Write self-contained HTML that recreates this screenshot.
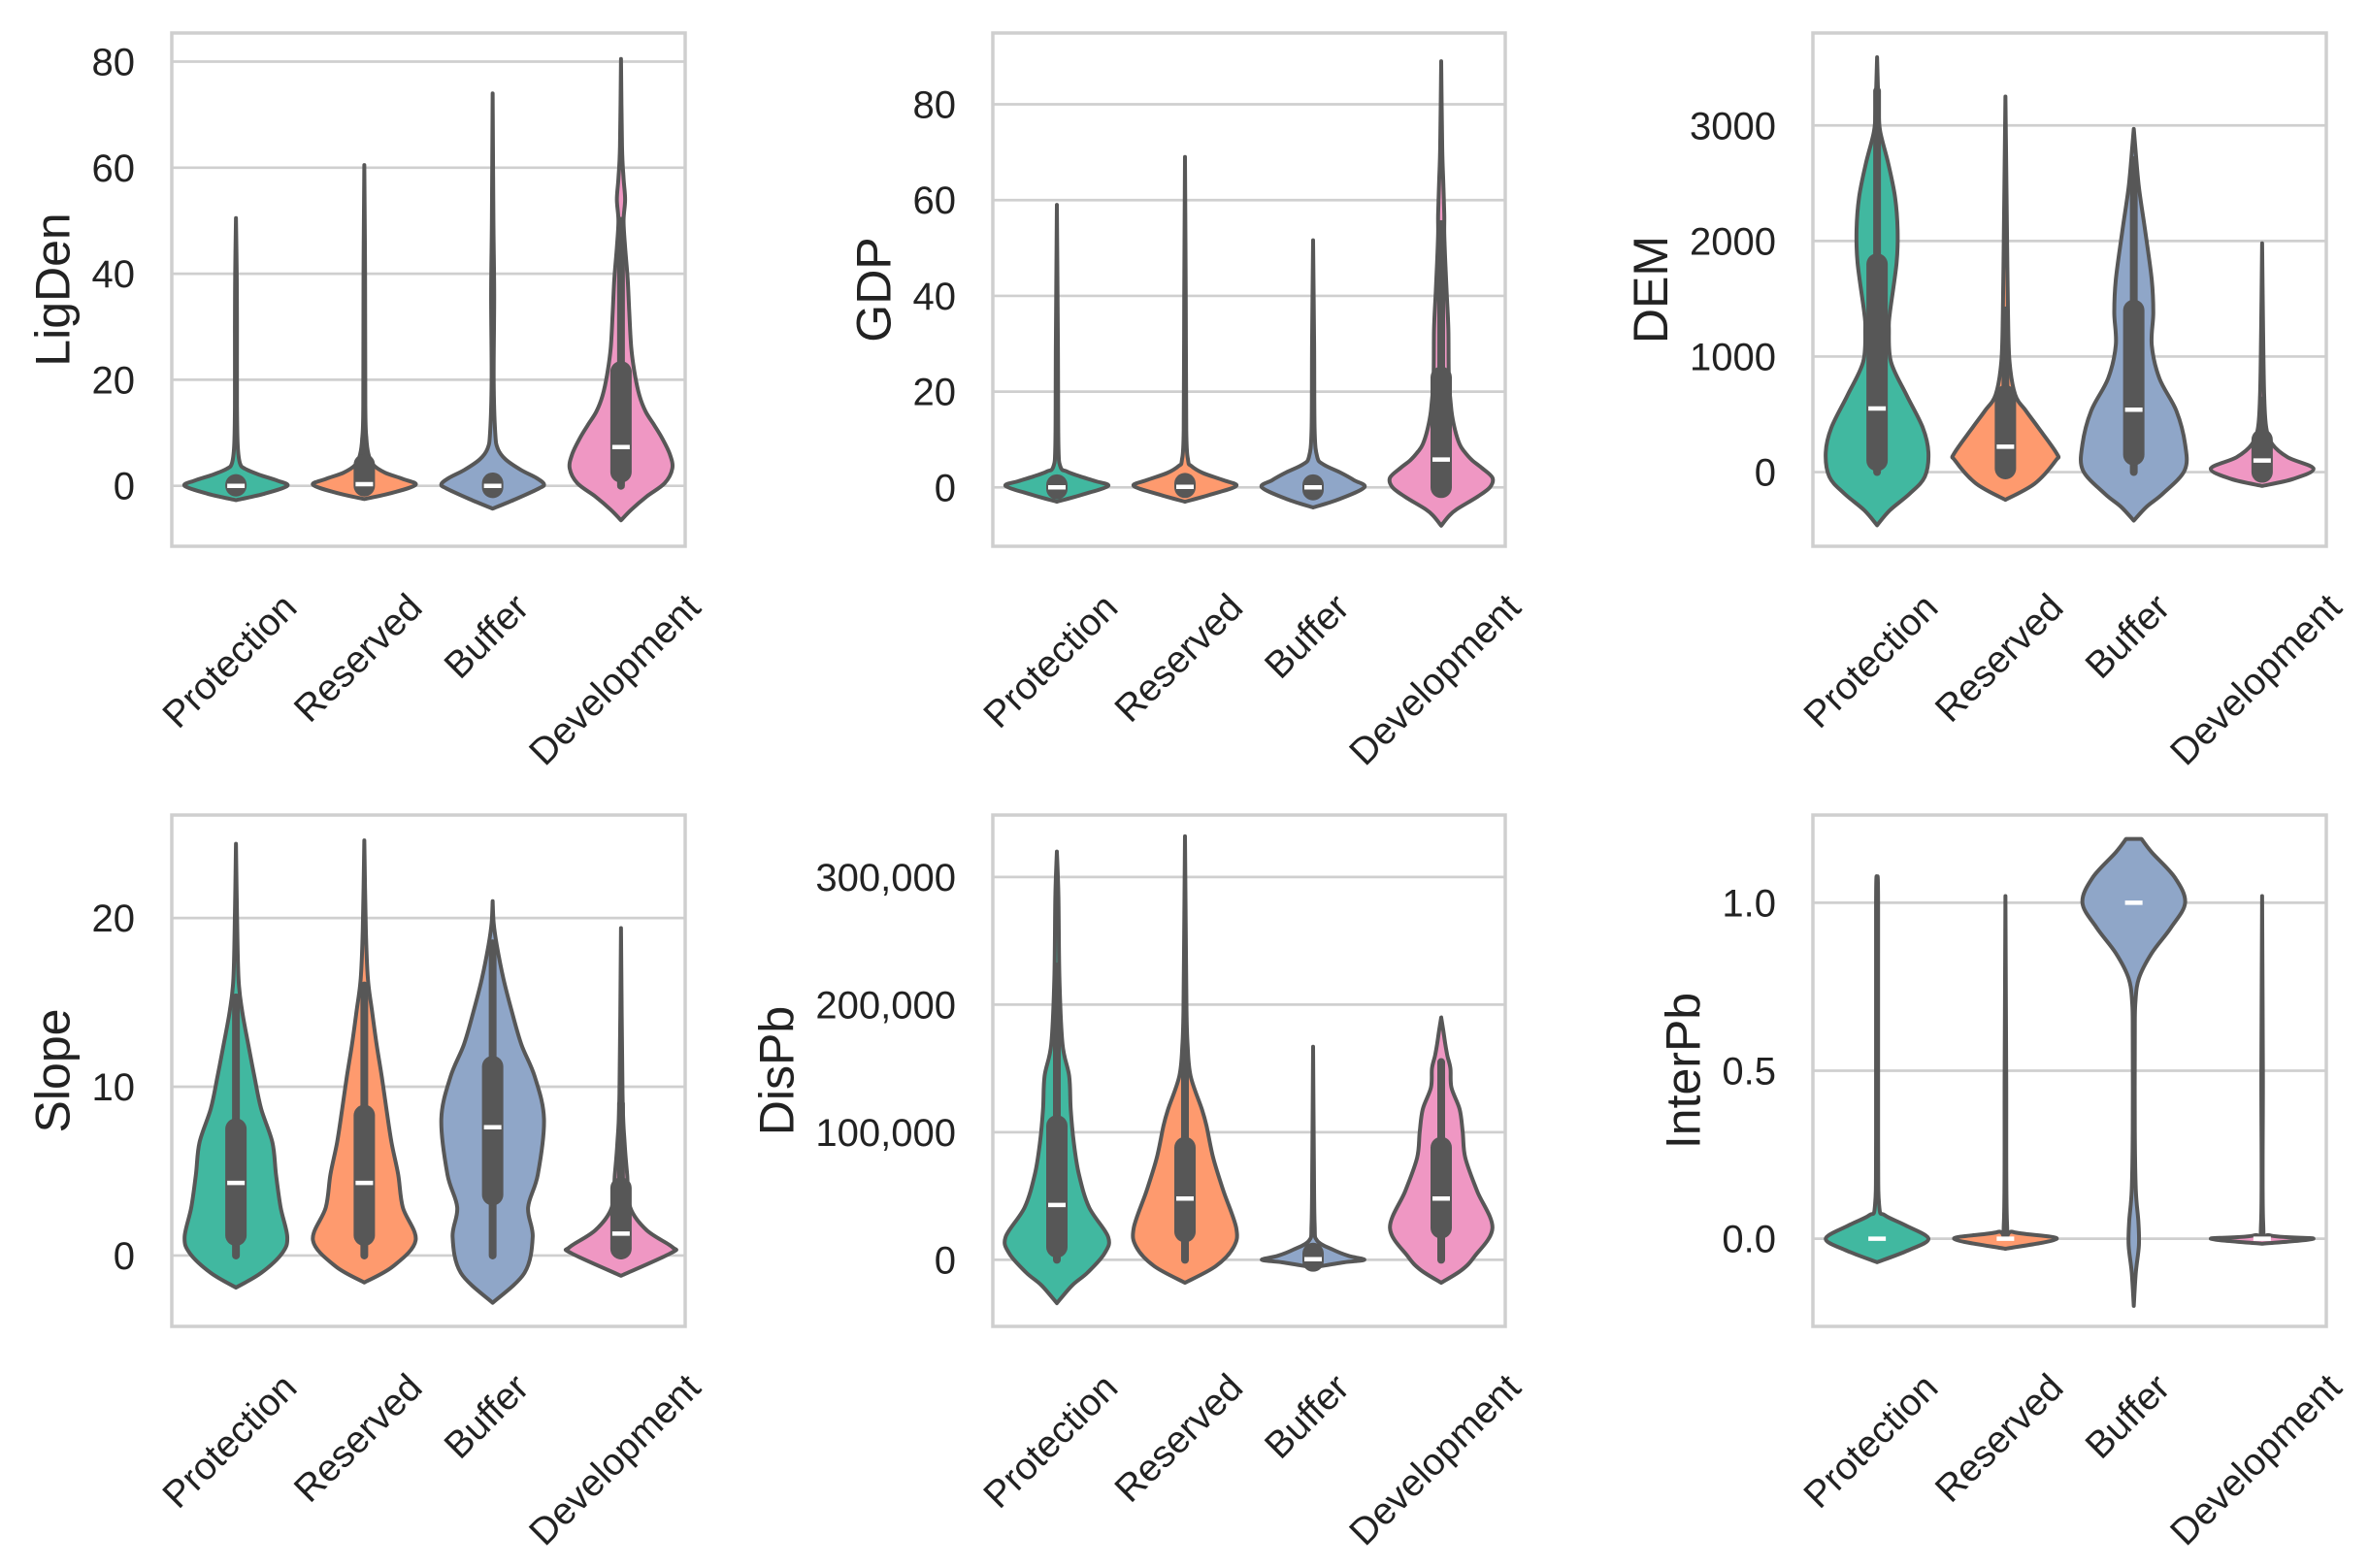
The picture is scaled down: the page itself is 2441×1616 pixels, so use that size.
<!DOCTYPE html>
<html><head><meta charset="utf-8">
<style>
html,body{margin:0;padding:0;background:#fff;}
svg{display:block;font-family:"Liberation Sans",Arial,sans-serif;}
</style></head>
<body>
<svg id="fig" width="2441" height="1616" viewBox="0 0 2441 1616" xmlns="http://www.w3.org/2000/svg"></svg>
<script>
const categories = ["Protection","Reserved","Buffer","Development"];
const fillColors = ["#41b8a0","#fe9a6e","#8fa6c8","#ef97c3"];

// ---- LigDen ----
const ligdenTicks = [0,20,40,60,80];
const ligdenTickLabels = ["0","20","40","60","80"];
const ligdenShapes = [
 [[-2.7,0],[-1.5,0.55],[0,1],[1,0.8],[2.1,0.45],[3.2,0.18],[4.2,0.08],[7.5,0.035],[15,0.02],[30,0.02],[40,0.015],[50.5,0]],
 [[-2.5,0],[-1.3,0.55],[0.2,1],[1.3,0.75],[2.5,0.4],[4,0.17],[6,0.08],[9,0.04],[15,0.02],[40,0.015],[60.5,0]],
 [[-4.3,0],[-2.5,0.45],[-0.5,0.9],[0.3,1],[1.5,0.85],[3,0.55],[5,0.25],[7,0.1],[10,0.05],[20,0.02],[36,0.03],[50,0.015],[74,0]],
 [[-6.5,0],[-4.5,0.2],[-2,0.5],[0.5,0.85],[3.3,1],[6,0.95],[9,0.8],[11.4,0.65],[14,0.48],[17,0.36],[21,0.27],[26,0.2],[33,0.16],[39,0.13],[45,0.08],[50,0.05],[54,0.08],[58,0.05],[64,0.02],[80.5,0]]
];
const ligdenBoxes = [[0,0,0,0.2,1],[0,0,0.3,4,9],[-0.3,-0.3,0,0.5,1.5],[0,2.6,7.3,21.5,50]];

// ---- GDP ----
const gdpTicks = [0,20,40,60,80];
const gdpTickLabels = ["0","20","40","60","80"];
const gdpShapes = [
 [[-3,0],[-1.5,0.5],[0.3,1],[1.3,0.75],[2.3,0.45],[3.3,0.2],[4.3,0.07],[9,0.03],[30,0.02],[59,0]],
 [[-3,0],[-1.5,0.5],[0.3,1],[1.5,0.75],[3,0.35],[4.5,0.12],[5.7,0.06],[12,0.025],[40,0.015],[69,0]],
 [[-4.2,0],[-2.5,0.5],[0,1],[1.5,0.8],[3,0.55],[4.8,0.2],[6.4,0.08],[12,0.03],[30,0.02],[51.6,0]],
 [[-8,0],[-6,0.15],[-4.6,0.3],[-2,0.7],[0,0.95],[2,1],[4,0.8],[5.7,0.6],[7.5,0.45],[9,0.36],[12,0.27],[16,0.2],[23,0.15],[33,0.14],[40,0.11],[47,0.08],[53,0.06],[57,0.06],[64,0.04],[71,0.02],[89,0]]
];
const gdpBoxes = [[-0.3,-0.3,0,0.5,1],[0,0,0.1,0.8,2],[-0.5,-0.5,0,0.5,1],[0,0,5.8,23,55]];

// ---- DEM ----
const demTicks = [0,1000,2000,3000];
const demTickLabels = ["0","1000","2000","3000"];
const demShapes = [
 [[-460,0],[-330,0.25],[-185,0.64],[-40,0.93],[170,1],[385,0.89],[670,0.57],[955,0.27],[1240,0.23],[1380,0.25],[1810,0.38],[2095,0.4],[2380,0.35],[2667,0.22],[2950,0.06],[3150,0.03],[3590,0]],
 [[-240,0],[-100,0.57],[100,0.98],[160,1],[385,0.64],[530,0.4],[670,0.19],[955,0.08],[1380,0.05],[2095,0.03],[2667,0.015],[3250,0]],
 [[-420,0],[-300,0.25],[-185,0.57],[15,0.99],[240,1],[530,0.83],[810,0.5],[1100,0.35],[1380,0.38],[1665,0.35],[2095,0.22],[2466,0.1],[2810,0.03],[2970,0]],
 [[-120,0],[-60,0.6],[30,1],[128,0.5],[240,0.2],[385,0.08],[670,0.04],[1200,0.02],[1980,0]]
];
const demBoxes = [[0,100,550,1800,3300],[0,30,220,660,1400],[0,150,540,1400,2700],[0,0,100,280,620]];

// ---- Slope ----
const slopeTicks = [0,10,20];
const slopeTickLabels = ["0","10","20"];
const slopeShapes = [
 [[-1.9,0],[-1.03,0.49],[0.14,0.9],[1.1,1],[2.85,0.87],[4.8,0.78],[6.7,0.71],[8.7,0.49],[10.6,0.36],[12.5,0.24],[14.5,0.12],[16.4,0.05],[20.3,0.02],[24.4,0]],
 [[-1.6,0],[-0.64,0.56],[0.9,1],[2.85,0.75],[4.8,0.66],[6.7,0.53],[8.7,0.43],[10.6,0.34],[12.5,0.24],[14.5,0.15],[16.4,0.07],[19.3,0.03],[24.6,0]],
 [[-2.8,0],[-1.03,0.62],[1.1,0.78],[2.85,0.69],[4.8,0.88],[8.1,1],[10.6,0.82],[12.5,0.56],[14.5,0.37],[16.4,0.21],[18.4,0.08],[19.7,0.02],[21,0]],
 [[-1.2,0],[0.14,0.97],[0.5,1],[1.5,0.5],[2.85,0.18],[4.8,0.12],[6.7,0.07],[9.6,0.03],[19.4,0]]
];
const slopeBoxes = [[0,1.2,4.3,7.5,15.3],[0,1.2,4.3,8.3,16],[0,3.6,7.6,11.2,18.5],[0,0.4,1.3,4,9]];

// ---- DisPb ----
const dispbTicks = [0,100000,200000,300000];
const dispbTickLabels = ["0","100,000","200,000","300,000"];
const dispbShapes = [
 [[-34000,0],[-20000,0.3],[-10000,0.6],[5000,0.93],[18000,1],[41000,0.63],[67000,0.43],[92000,0.33],[118000,0.27],[144000,0.24],[169000,0.11],[220000,0.05],[285000,0.03],[320000,0]],
 [[-18000,0],[-5000,0.6],[10000,0.95],[25000,1],[54000,0.75],[80000,0.55],[105000,0.42],[118000,0.33],[144000,0.11],[169000,0.05],[195000,0.03],[260000,0.015],[332000,0]],
 [[-6000,0],[-2000,0.6],[0,1],[3000,0.7],[7700,0.4],[15000,0.08],[28000,0.03],[80000,0.015],[167000,0]],
 [[-18000,0],[-8000,0.4],[2600,0.65],[25000,1],[54000,0.7],[80000,0.47],[100000,0.42],[118000,0.36],[135000,0.2],[150000,0.18],[160000,0.12],[169000,0.08],[180000,0.04],[190000,0]]
];
const dispbBoxes = [[0,10000,43000,105000,230000],[0,22000,48000,88000,180000],[-1000,-1000,500,5000,8000],[0,25000,48000,88000,155000]];

// ---- InterPb ----
const interpbTicks = [0,0.5,1.0];
const interpbTickLabels = ["0.0","0.5","1.0"];
const interpbShapes = [
 [[-0.07,0],[-0.035,0.6],[0,1],[0.04,0.55],[0.07,0.15],[0.1,0.04],[0.3,0.02],[1.0,0.02],[1.07,0]],
 [[-0.03,0],[0,1],[0.02,0.15],[0.05,0.03],[0.5,0.015],[1.02,0]],
 [[-0.2,0],[-0.1,0.04],[-0.02,0.1],[0.05,0.09],[0.144,0.04],[0.32,0.02],[0.6,0.02],[0.7,0.03],[0.775,0.1],[0.85,0.35],[0.925,0.72],[1.0,1],[1.075,0.8],[1.15,0.35],[1.19,0.15]],
 [[-0.015,0],[0,1],[0.01,0.15],[0.05,0.02],[0.5,0.015],[1.02,0]]
];
const interpbBoxes = [[0,0,0,0,0],[0,0,0,0,0],[1,1,1,1,1],[0,0,0,0,0]];

const panels = [
 {key:"ligden", label:"LigDen", x0:177,x1:706,y0:34,y1:563, dom:[-11.4,85.4], ticks:ligdenTicks, tl:ligdenTickLabels, shapes:ligdenShapes, boxes:ligdenBoxes, box:true},
 {key:"gdp", label:"GDP", x0:1023,x1:1551,y0:34,y1:563, dom:[-12.3,94.9], ticks:gdpTicks, tl:gdpTickLabels, shapes:gdpShapes, boxes:gdpBoxes, box:true},
 {key:"dem", label:"DEM", x0:1868,x1:2397,y0:34,y1:563, dom:[-642,3800], ticks:demTicks, tl:demTickLabels, shapes:demShapes, boxes:demBoxes, box:true},
 {key:"slope", label:"Slope", x0:177,x1:706,y0:840,y1:1367, dom:[-4.2,26.1], ticks:slopeTicks, tl:slopeTickLabels, shapes:slopeShapes, boxes:slopeBoxes, box:true},
 {key:"dispb", label:"DisPb", x0:1023,x1:1551,y0:840,y1:1367, dom:[-52200,348600], ticks:dispbTicks, tl:dispbTickLabels, shapes:dispbShapes, boxes:dispbBoxes, box:true},
 {key:"interpb", label:"InterPb", x0:1868,x1:2397,y0:840,y1:1367, dom:[-0.261,1.261], ticks:interpbTicks, tl:interpbTickLabels, shapes:interpbShapes, boxes:interpbBoxes, box:false}
];

const NS="http://www.w3.org/2000/svg";
const svg=document.getElementById("fig");
const OUT="#575757", GRID="#cfcfcf", TXT="#222222";
function mk(tag,attrs,parent){const e=document.createElementNS(NS,tag);for(const k in attrs)e.setAttribute(k,attrs[k]);(parent||svg).appendChild(e);return e;}
function catmull(pts){let d="";for(let i=0;i<pts.length-1;i++){const p0=pts[i-1]||pts[i],p1=pts[i],p2=pts[i+1],p3=pts[i+2]||p2;
 const c1x=p1[0]+(p2[0]-p0[0])/6,c1y=p1[1]+(p2[1]-p0[1])/6,c2x=p2[0]-(p3[0]-p1[0])/6,c2y=p2[1]-(p3[1]-p1[1])/6;
 d+=` C${c1x.toFixed(2)},${c1y.toFixed(2)} ${c2x.toFixed(2)},${c2y.toFixed(2)} ${p2[0].toFixed(2)},${p2[1].toFixed(2)}`;}return d;}

panels.forEach(p=>{
 const g=mk("g",{});
 
 
 const yS=v=>p.y1-(v-p.dom[0])/(p.dom[1]-p.dom[0])*(p.y1-p.y0);
 const step=(p.x1-p.x0)/categories.length;
 const xS=i=>p.x0+step*(i+0.5);
 const HW=0.4*step;
 p.ticks.forEach((t,i)=>{
  const y=yS(t);
  const gl=mk("line",{x1:p.x0,x2:p.x1,y1:y,y2:y,stroke:GRID,"stroke-width":2.7},g);
  
  
  const tx=mk("text",{x:p.x0-38,y:y+14,"text-anchor":"end","font-size":40,fill:TXT},g);
  tx.textContent=p.tl[i];
  
  
 });
 p.shapes.forEach((sh,i)=>{
  const cx=xS(i);
  const right=sh.map(q=>[cx+q[1]*HW,yS(q[0])]);
  const left=sh.slice().reverse().map(q=>[cx-q[1]*HW,yS(q[0])]);
  const d="M"+right[0][0].toFixed(2)+","+right[0][1].toFixed(2)+catmull(right)+" L"+left[0][0].toFixed(2)+","+left[0][1].toFixed(2)+catmull(left)+" Z";
  const v=mk("path",{d:d,fill:fillColors[i],stroke:OUT,"stroke-width":4,"stroke-linejoin":"round"},g);
  
  
  const b=p.boxes[i];
  if(p.box){
   const wl=mk("line",{x1:cx,x2:cx,y1:yS(b[0]),y2:yS(b[4]),stroke:OUT,"stroke-width":8,"stroke-linecap":"round"},g);
   
   
   const bx=mk("line",{x1:cx,x2:cx,y1:yS(b[1]),y2:yS(b[3]),stroke:OUT,"stroke-width":22,"stroke-linecap":"round"},g);
   
   
  }
  const md=mk("line",{x1:cx-9,x2:cx+9,y1:yS(b[2]),y2:yS(b[2]),stroke:"#ffffff","stroke-width":4.5},g);
  
  
 });
 const br=mk("rect",{x:p.x0,y:p.y0,width:p.x1-p.x0,height:p.y1-p.y0,fill:"none",stroke:GRID,"stroke-width":3.5},g);
 
 
 categories.forEach((c,i)=>{
  const t=mk("text",{"font-size":39,fill:TXT,"text-anchor":"middle"},g);
  t.textContent=c;
  
  
  const w=t.getComputedTextLength(), h=30;
  const cy=p.y1+47+(w+h)/(2*Math.SQRT2);
  const cx=xS(i)-5;
  t.setAttribute("x",cx);t.setAttribute("y",cy+11);
  t.setAttribute("transform",`rotate(-45 ${cx} ${cy})`);
 });
 let maxW=0;
 p.tl.forEach(s=>{const tt=mk("text",{"font-size":40},g);tt.textContent=s;maxW=Math.max(maxW,tt.getComputedTextLength());g.removeChild(tt);});
 const lx=p.x0-38-maxW-40, ly=(p.y0+p.y1)/2;
 const yl=mk("text",{x:lx,y:ly,"text-anchor":"middle","font-size":50,fill:TXT,transform:`rotate(-90 ${lx} ${ly})`,dy:17},g);
 yl.textContent=p.label;
 
 
});
</script>
</body></html>
